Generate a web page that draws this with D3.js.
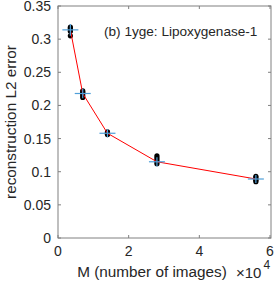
<!DOCTYPE html>
<meta charset="utf-8">
<style>
body { margin: 0; background: #fff; }
text { font-family: "Liberation Sans", Arial, sans-serif; fill: #262626; }
</style>
<svg width="274" height="281"></svg>
<script src="https://d3js.org/d3.v7.min.js"></script>
<script>

var svg = d3.select("svg");

// number of images M and mean error
var M = [3500, 7000, 14000, 28000, 56000];
var meanErr = [0.314, 0.218, 0.158, 0.115, 0.089];
var stdErr = [0.009, 0.007, 0.006, 0.007, 0.006];
// individual trials
var trials = [
  [0.305, 0.312, 0.314, 0.316, 0.318],
  [0.212, 0.215, 0.218, 0.220, 0.222],
  [0.156, 0.158, 0.159, 0.160, 0.157],
  [0.112, 0.115, 0.118, 0.121, 0.124],
  [0.085, 0.087, 0.089, 0.091, 0.093]
];
var xTicks = [0, 2, 4, 6];
var yTicks = [0, 0.05, 0.1, 0.15, 0.2, 0.25, 0.3, 0.35];

var padL = 58, padR = 271, padT = 6, padB = 238;

var x = d3.scaleLinear().domain([0, 6e4]).range([padL, 270]);
var y = d3.scaleLinear().domain([0, 0.35]).range([padB, padT]);

var axisCol = "#808080";

// box
svg.append("rect")
    .attr("x", padL).attr("y", padT)
    .attr("width", padR - padL).attr("height", padB - padT)
    .attr("fill", "none").attr("stroke", axisCol).attr("stroke-width", 1);

// ticks
xTicks.forEach(function(t) {
  var px = x(t * 1e4);
  svg.append("line").attr("x1", px).attr("x2", px).attr("y1", padB).attr("y2", padB - 3).attr("stroke", axisCol);
  svg.append("line").attr("x1", px).attr("x2", px).attr("y1", padT).attr("y2", padT + 3).attr("stroke", axisCol);
  svg.append("text").attr("x", px).attr("y", 256).attr("text-anchor", "middle")
      .attr("font-size", 14).text(t);
});
yTicks.forEach(function(t) {
  var py = y(t);
  svg.append("line").attr("x1", padL).attr("x2", padL + 3).attr("y1", py).attr("y2", py).attr("stroke", axisCol);
  svg.append("line").attr("x1", padR).attr("x2", padR - 3).attr("y1", py).attr("y2", py).attr("stroke", axisCol);
  svg.append("text").attr("x", 51).attr("y", py + 5).attr("text-anchor", "end")
      .attr("font-size", 14).text(t);
});

// trial dots
trials.forEach(function(arr, i) {
  arr.forEach(function(v) {
    svg.append("circle").attr("cx", x(M[i])).attr("cy", y(v)).attr("r", 2.6).attr("fill", "#000");
  });
});

// mean line
var line = d3.line().x(function(d, i) { return x(M[i]); }).y(function(d) { return y(d); });
svg.append("path").datum(meanErr).attr("d", line)
    .attr("fill", "none").attr("stroke", "#ff0000").attr("stroke-width", 1);

// error crosses
var blue = "#4f9fd8";
meanErr.forEach(function(v, i) {
  var px = x(M[i]);
  svg.append("line").attr("x1", px - 8).attr("x2", px + 8).attr("y1", y(v)).attr("y2", y(v))
      .attr("stroke", blue).attr("stroke-width", 1.2);
  svg.append("line").attr("x1", px).attr("x2", px).attr("y1", y(v - stdErr[i])).attr("y2", y(v + stdErr[i]))
      .attr("stroke", blue).attr("stroke-width", 1.2);
});

// annotation
svg.append("text").attr("x", 104).attr("y", 36).attr("font-size", 13.6)
    .text("(b) 1yge: Lipoxygenase-1");

// axis labels
svg.append("text").attr("transform", "translate(16," + ((padT + padB) / 2) + ") rotate(-90)")
    .attr("text-anchor", "middle").attr("font-size", 15.3).text("reconstruction L2 error");
svg.append("text").attr("x", 152).attr("y", 277).attr("text-anchor", "middle")
    .attr("font-size", 15.3).text("M (number of images)");
var exp = svg.append("text").attr("x", 236).attr("y", 278).attr("font-size", 15);
exp.append("tspan").text("\u00d710");
exp.append("tspan").attr("dx", 2).attr("dy", -9).attr("font-size", 12).text("4");

</script>
